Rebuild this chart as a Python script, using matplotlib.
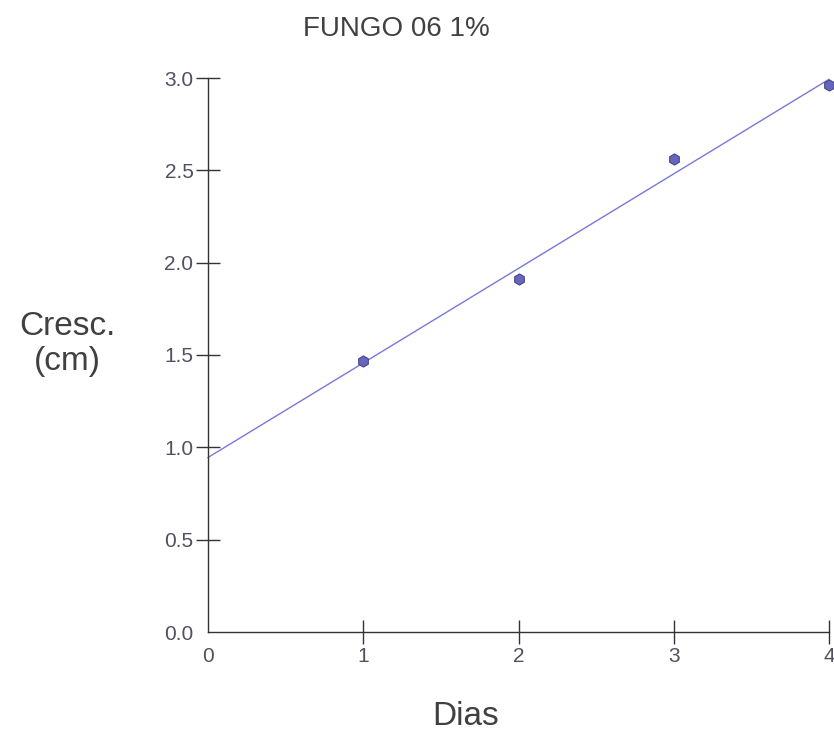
import matplotlib.pyplot as plt
import numpy as np

plt.rcParams['font.family'] = ['Liberation Sans', 'DejaVu Sans']

# growth measurements
dias = [1, 2, 3, 4]
cresc = [1.47, 1.91, 2.56, 2.96]
x_ticks = [0, 1, 2, 3, 4]
y_ticks = [0.0, 0.5, 1.0, 1.5, 2.0, 2.5, 3.0]

# linear fit through the measurements
slope, intercept = np.polyfit(dias, cresc, 1)
x_fit = np.array([0, 4])
y_fit = slope * x_fit + intercept

fig = plt.figure(figsize=(8.34, 7.35), dpi=100)
ax = fig.add_axes([208 / 834, 1 - 632 / 735, 621 / 834, 554 / 735])

ax.plot(x_fit, y_fit, color='#7878d8', lw=1.0, clip_on=False)
ax.plot(dias, cresc, linestyle='none', marker='h', ms=8,
        color='#6666bb', mec='#46468c', mew=0.8, clip_on=False)

ax.set_xlim(0, 4)
ax.set_ylim(0, 3.0)
ax.set_xticks(x_ticks)
ax.set_xticklabels([str(v) for v in x_ticks])
ax.set_yticks(y_ticks)
ax.set_yticklabels([f'{v:.1f}' for v in y_ticks])

for side in ('top', 'right'):
    ax.spines[side].set_visible(False)
for side in ('left', 'bottom'):
    ax.spines[side].set_color('#333333')
    ax.spines[side].set_linewidth(1.0)

ax.tick_params(direction='inout', length=17, width=1.0, color='#333333',
               labelsize=15, labelcolor='#505060', pad=2)

# the origin carries labels but no tick marks
ax.xaxis.get_major_ticks()[0].tick1line.set_visible(False)
ax.yaxis.get_major_ticks()[0].tick1line.set_visible(False)

ax.set_ylabel('Cresc.\n(cm)', rotation=0, fontsize=24, color='#404040',
              ha='center', va='center', linespacing=1.2)
ax.yaxis.set_label_coords(-0.227, 0.52)
ax.set_xlabel('Dias', fontsize=24, color='#404040', va='center')
ax.xaxis.set_label_coords(0.415, -0.153)

ax.text(0.304, 1.088, 'FUNGO 06 1%', transform=ax.transAxes,
        fontsize=20, color='#404040', ha='center', va='center')

fig.savefig('out.png', dpi=100)
